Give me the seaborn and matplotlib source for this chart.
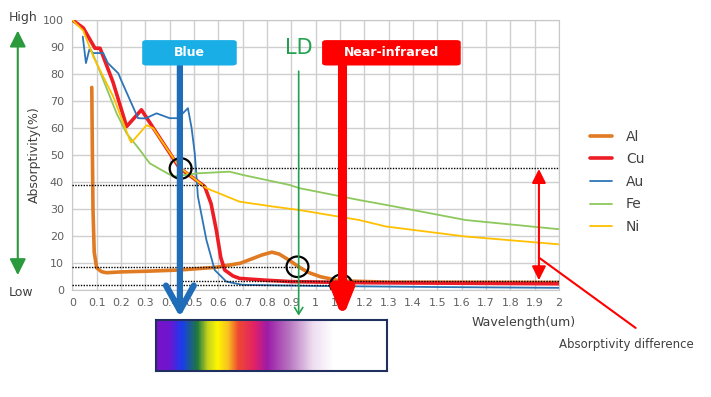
import numpy as np
import pandas as pd
import matplotlib.pyplot as plt
import seaborn as sns
from matplotlib.patches import Ellipse, FancyBboxPatch, FancyArrowPatch
from matplotlib.colors import LinearSegmentedColormap

# courbes (longueur d'onde en um, absorptivité en %)
al_x = [0.08, 0.082, 0.085, 0.09, 0.1, 0.12, 0.14, 0.2, 0.32, 0.44, 0.59, 0.69, 0.78, 0.82, 0.85, 0.89, 0.93, 0.97, 1.02, 1.1, 1.3, 2.0]
al_y = [75, 55, 30, 14, 8.2, 6.8, 6.4, 6.7, 7.0, 7.4, 8.4, 9.9, 13.0, 14.0, 13.3, 11.1, 8.6, 6.5, 4.9, 3.4, 2.9, 2.8]

cu_x = [0.0, 0.045, 0.093, 0.114, 0.167, 0.223, 0.284, 0.44, 0.544, 0.57, 0.592, 0.61, 0.626, 0.66, 0.687, 0.8, 0.9, 1.2, 2.0]
cu_y = [100, 97, 89.5, 89.5, 77, 60.5, 66.7, 45.2, 38.3, 32, 22, 12, 7.4, 5.2, 4.3, 3.6, 3.1, 2.7, 2.3]

au_x = [0.043, 0.056, 0.07, 0.086, 0.127, 0.146, 0.189, 0.2, 0.27, 0.3, 0.346, 0.4, 0.434, 0.475, 0.49, 0.503, 0.516, 0.551, 0.585, 0.633, 0.7, 1.0, 1.5, 2.0]
au_y = [93.8, 84, 89, 87.7, 87.7, 84, 80.2, 77.8, 63.6, 63.5, 65.4, 63.6, 63.6, 67.3, 60, 50.6, 34.6, 18.5, 7.4, 3.1, 1.9, 1.5, 1.1, 0.8]

fe_x = [0.077, 0.1, 0.127, 0.182, 0.223, 0.277, 0.318, 0.414, 0.516, 0.646, 0.7, 0.892, 0.933, 1.179, 1.289, 1.616, 2.0]
fe_y = [88.9, 84, 77.8, 65.4, 58, 51.9, 46.9, 42, 43.2, 43.8, 42.6, 38.9, 37.7, 33.3, 31.5, 25.9, 22.5]

ni_x = [0.0, 0.045, 0.086, 0.168, 0.236, 0.243, 0.305, 0.332, 0.44, 0.551, 0.687, 0.824, 0.933, 1.179, 1.289, 1.616, 2.0]
ni_y = [100, 96, 86.4, 71.6, 55.6, 54.6, 61, 59.9, 45.5, 37.7, 32.7, 30.9, 29.6, 25.9, 23.5, 19.8, 16.9]

metals = ['Al', 'Cu', 'Au', 'Fe', 'Ni']
colors = ['#E07B24', '#EE1C25', '#2E75B6', '#8DC85C', '#FFC000']
widths = [2.6, 2.6, 1.3, 1.3, 1.3]

x_ticks = np.round(np.arange(0, 2.01, 0.1), 1)
x_tick_labels = ['0', '0.1', '0.2', '0.3', '0.4', '0.5', '0.6', '0.7', '0.8', '0.9', '1',
                 '1.1', '1.2', '1.3', '1.4', '1.5', '1.6', '1.7', '1.8', '1.9', '2']
y_ticks = list(range(0, 101, 10))

# lignes pointillées de repère : (niveau, x début, x fin)
ref_levels = [(45.2, 0.46, 2.0), (38.7, 0.0, 0.54), (8.5, 0.0, 0.93), (3.5, 0.45, 2.0), (1.8, 0.0, 1.1)]
# cercles noirs sur les intersections
circles = [(0.445, 45.0), (0.925, 8.6), (1.105, 1.9)]

blue_x = 0.442
ld_x = 0.93
nir_x = 1.11
diff_x = 1.917

spectrum_pos = [0.0, 0.06, 0.11, 0.177, 0.22, 0.263, 0.31, 0.353, 0.427, 0.48, 0.578, 0.677, 0.767, 1.0]
spectrum_col = ['#7B12C8', '#6A18D0', '#1A3CF0', '#1E7A3C', '#C0D020', '#FFF700', '#F8C020',
                '#EF4A30', '#E0206A', '#9C1CA8', '#B878C0', '#EEDDF0', '#FFFFFF', '#FFFFFF']

frames = []
for m, xs, ys in zip(metals, [al_x, cu_x, au_x, fe_x, ni_x], [al_y, cu_y, au_y, fe_y, ni_y]):
    frames.append(pd.DataFrame({'wl': xs, 'abs': ys, 'metal': m}))
df = pd.concat(frames, ignore_index=True)

sns.set_style('white')
plt.rcParams['font.family'] = ['DejaVu Sans']

fig = plt.figure(figsize=(7.11, 3.97), dpi=100)
ax = fig.add_axes([0.1017, 0.2695, 0.6847, 0.6805])

sns.lineplot(data=df, x='wl', y='abs', hue='metal', size='metal',
             palette=dict(zip(metals, colors)), sizes=dict(zip(metals, widths)),
             hue_order=metals, size_order=metals,
             sort=False, estimator=None, ax=ax, zorder=3)

ax.set_xlim(0, 2)
ax.set_ylim(0, 100)
ax.set_xticks(x_ticks)
ax.set_xticklabels(x_tick_labels)
ax.set_yticks(y_ticks)
ax.tick_params(labelsize=8, colors='#606060', length=0, pad=6)
ax.grid(True, color='#CFCFCF', lw=1)
for s in ax.spines.values():
    s.set_color('#C8C8C8')
ax.set_xlabel('')
ax.set_ylabel('')

for lvl, x0, x1 in ref_levels:
    ax.plot([x0, x1], [lvl, lvl], ls=(0, (1, 1)), color='black', lw=1.0, zorder=4, clip_on=False)

for cx, cy in circles:
    ax.add_patch(Ellipse((cx, cy), 0.09, 7.6, fill=False, ec='black', lw=1.6, zorder=6))

# légende à droite
h, l = ax.get_legend_handles_labels()
ax.legend(h, l, loc='upper left', bbox_to_anchor=(0.812, 0.705), bbox_transform=fig.transFigure,
          frameon=False, fontsize=10, handlelength=1.6, labelspacing=0.62, handletextpad=1.0)
for t in ax.get_legend().get_texts():
    t.set_color('#404040')

# bandes Blue / Near-infrared
fig.patches.append(FancyBboxPatch((0.203, 0.838), 0.127, 0.058, boxstyle='round,pad=0.003,rounding_size=0.006',
                                  transform=fig.transFigure, fc='#1AAEE6', ec='none', zorder=5))
fig.text(0.266, 0.868, 'Blue', color='white', fontsize=9, fontweight='bold', ha='center', va='center', zorder=10)
fig.patches.append(FancyBboxPatch((0.456, 0.838), 0.189, 0.058, boxstyle='round,pad=0.003,rounding_size=0.006',
                                  transform=fig.transFigure, fc='#FF0000', ec='none', zorder=5))
fig.text(0.55, 0.868, 'Near-infrared', color='white', fontsize=9, fontweight='bold', ha='center', va='center', zorder=10)

ax.annotate('', xy=(blue_x, -10), xytext=(blue_x, 83), annotation_clip=False,
            arrowprops=dict(arrowstyle='->,head_width=0.5,head_length=0.9', color='#1F6DB8', lw=4.5,
                            shrinkA=0, shrinkB=0, mutation_scale=20), zorder=7)
ax.annotate('', xy=(nir_x, -10.5), xytext=(nir_x, 83), annotation_clip=False,
            arrowprops=dict(arrowstyle='-|>,head_width=0.3,head_length=0.75', color='#FF0000', lw=6.5,
                            shrinkA=0, shrinkB=0, mutation_scale=20), zorder=7)
ax.annotate('', xy=(ld_x, -9.5), xytext=(ld_x, 81), annotation_clip=False,
            arrowprops=dict(arrowstyle='->,head_width=0.25,head_length=0.4', color='#22A050', lw=1.2,
                            shrinkA=0, shrinkB=0, mutation_scale=12), zorder=7)
ax.text(ld_x, 86, 'LD', color='#22A050', fontsize=15, ha='center', va='bottom')

# écart d'absorptivité
ax.annotate('', xy=(diff_x, 3.6), xytext=(diff_x, 44.8),
            arrowprops=dict(arrowstyle='<|-|>,head_width=0.3,head_length=0.6', color='#FF0000', lw=1.5,
                            shrinkA=0, shrinkB=0, mutation_scale=14), zorder=7)
ax.annotate('', xy=(0.894, 0.174), xycoords='figure fraction', xytext=(diff_x, 12), textcoords='data',
            arrowprops=dict(arrowstyle='-', color='#FF0000', lw=1.5, shrinkA=0, shrinkB=0),
            annotation_clip=False)
fig.text(0.786, 0.131, 'Absorptivity difference', fontsize=8.5, color='#404040', va='center')

fig.text(0.81, 0.187, 'Wavelength(um)', fontsize=9, color='#404040', ha='right', va='center')
fig.text(0.049, 0.61, 'Absorptivity(%)', fontsize=9, color='#404040', rotation=90, ha='center', va='center')

# flèche High / Low à gauche
fig.patches.append(FancyArrowPatch((0.025, 0.30), (0.025, 0.93), transform=fig.transFigure,
                                   arrowstyle='<|-|>,head_width=0.35,head_length=0.7', mutation_scale=14,
                                   color='#2A9A3C', lw=1.5))
fig.text(0.033, 0.955, 'High', fontsize=9, color='#404040', ha='center', va='center')
fig.text(0.03, 0.262, 'Low', fontsize=9, color='#404040', ha='center', va='center')

# barre du spectre
sax = fig.add_axes([0.219, 0.066, 0.326, 0.128])
cmap = LinearSegmentedColormap.from_list('spec', list(zip(spectrum_pos, spectrum_col)))
sax.imshow(np.linspace(0, 1, 400)[None, :], aspect='auto', cmap=cmap, extent=[0, 1, 0, 1])
sax.set_xticks([])
sax.set_yticks([])
for s in sax.spines.values():
    s.set_color('#1F2F5F')
    s.set_linewidth(1.5)

fig.savefig('out.png', dpi=100)
